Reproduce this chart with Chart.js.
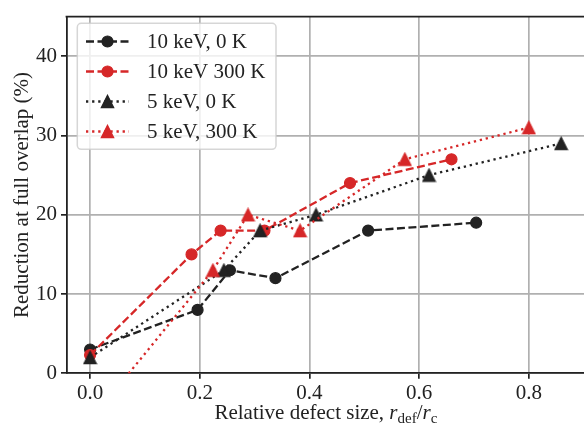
<!DOCTYPE html>
<html><head><meta charset="utf-8">
<script src="https://cdn.jsdelivr.net/npm/chart.js@4.4.1/dist/chart.umd.min.js"></script>
<style>html,body{margin:0;padding:0;overflow:hidden;background:#fff;width:584px;height:426px}canvas{display:block}</style>
</head><body><canvas id="c" width="592" height="426"></canvas>
<script>
// ---- data ----
const seriesNames = ['10 keV, 0 K', '10 keV 300 K', '5 keV, 0 K', '5 keV, 300 K'];
const x10keV0K   = [0.0, 0.196, 0.255, 0.338, 0.507, 0.704];
const y10keV0K   = [3, 8, 13, 12, 18, 19];
const x10keV300K = [0.0, 0.185, 0.238, 0.318, 0.474, 0.659];
const y10keV300K = [2.3, 15, 18, 18, 24, 27];
const x5keV0K    = [0.0, 0.244, 0.310, 0.412, 0.618, 0.859];
const y5keV0K    = [2, 13, 18, 20, 25, 29];
const x5keV300K  = [0.0, 0.224, 0.288, 0.383, 0.574, 0.800];
const y5keV300K  = [-6, 13, 20, 18, 27, 31];
const xTicks = [0.0, 0.2, 0.4, 0.6, 0.8];
const yTicks = [0, 10, 20, 30, 40];

const BLACK = '#222222', RED = '#d62728';
const FONT = 'Liberation Serif';

function makeTriangle(color) {
  const s = 12.4, pad = 1.2, n = Math.ceil(s + 2 * pad);
  const cv = document.createElement('canvas');
  cv.width = n; cv.height = n;
  const g = cv.getContext('2d');
  const c = n / 2;
  g.beginPath();
  g.moveTo(c, c - s / 2);
  g.lineTo(c - s / 2, c + s / 2);
  g.lineTo(c + s / 2, c + s / 2);
  g.closePath();
  g.fillStyle = color; g.strokeStyle = color; g.lineWidth = 1.2; g.lineJoin = 'miter';
  g.fill(); g.stroke();
  return cv;
}
const triBlack = makeTriangle(BLACK), triRed = makeTriangle(RED);

const DASH = [8, 3.5], DOT = [2.3, 3.8];
const specs = [
  {name: seriesNames[0], xs: x10keV0K,   ys: y10keV0K,   color: BLACK, dash: DASH, style: 'circle'},
  {name: seriesNames[1], xs: x10keV300K, ys: y10keV300K, color: RED,   dash: DASH, style: 'circle'},
  {name: seriesNames[2], xs: x5keV0K,    ys: y5keV0K,    color: BLACK, dash: DOT,  style: triBlack},
  {name: seriesNames[3], xs: x5keV300K,  ys: y5keV300K,  color: RED,   dash: DOT,  style: triRed},
];

const datasets = specs.map((s, i) => ({
  label: s.name,
  data: s.xs.map((x, j) => ({x: x, y: s.ys[j]})),
  borderColor: s.color, backgroundColor: s.color,
  borderWidth: 2.3, borderDash: s.dash, borderCapStyle: 'butt',
  pointStyle: s.style, pointRadius: 5.5, pointHoverRadius: 5.5,
  pointBorderWidth: 1.2, pointBackgroundColor: s.color, pointBorderColor: s.color,
  fill: false, tension: 0, order: 4 - i
}));

const decor = {
  id: 'decor',
  afterDraw(chart) {
    const ctx = chart.ctx, a = chart.chartArea;
    ctx.save();
    // top spine
    ctx.strokeStyle = BLACK; ctx.lineWidth = 1.8;
    ctx.beginPath(); ctx.moveTo(a.left - 0.9, a.top); ctx.lineTo(a.right, a.top); ctx.stroke();

    // legend
    const lx = 77.3, ly = 23.3, lw = 198.7, lh = 126;
    ctx.beginPath();
    ctx.roundRect(lx, ly, lw, lh, 4);
    ctx.fillStyle = 'rgba(255,255,255,0.8)'; ctx.fill();
    ctx.strokeStyle = 'rgba(204,204,204,0.8)'; ctx.lineWidth = 1.5; ctx.stroke();
    specs.forEach((s, i) => {
      const y = 41.5 + 30 * i;
      ctx.save();
      ctx.strokeStyle = s.color; ctx.lineWidth = 2.3; ctx.setLineDash(s.dash); ctx.lineCap = 'butt';
      ctx.beginPath(); ctx.moveTo(86, y); ctx.lineTo(129, y); ctx.stroke();
      ctx.restore();
      const mx = 107.5;
      if (s.style === 'circle') {
        ctx.beginPath(); ctx.arc(mx, y, 5.5, 0, Math.PI * 2);
        ctx.fillStyle = s.color; ctx.fill();
        ctx.strokeStyle = s.color; ctx.lineWidth = 1.2; ctx.stroke();
      } else {
        ctx.drawImage(s.style, mx - s.style.width / 2, y - s.style.height / 2);
      }
      ctx.fillStyle = BLACK; ctx.font = '21px "' + FONT + '"';
      ctx.textAlign = 'left'; ctx.textBaseline = 'middle';
      ctx.fillText(s.name, 147, y + 1);
    });

    // y axis title
    ctx.save();
    ctx.translate(22, (a.top + a.bottom) / 2);
    ctx.rotate(-Math.PI / 2);
    ctx.fillStyle = BLACK; ctx.font = '21px "' + FONT + '"';
    ctx.textAlign = 'center'; ctx.textBaseline = 'middle';
    ctx.fillText('Reduction at full overlap (%)', 0, 0);
    ctx.restore();

    // x axis title with math part r_def / r_c
    const reg = '21px "' + FONT + '"', ita = 'italic 21px "' + FONT + '"', sub = '15px "' + FONT + '"';
    const parts = [
      {t: 'Relative defect size, ', f: reg, dy: 0},
      {t: 'r', f: ita, dy: 0},
      {t: 'def', f: sub, dy: 4},
      {t: '/', f: reg, dy: 0},
      {t: 'r', f: ita, dy: 0},
      {t: 'c', f: sub, dy: 4}
    ];
    let total = 0;
    parts.forEach(p => { ctx.font = p.f; p.w = ctx.measureText(p.t).width; total += p.w; });
    let x = (a.left + a.right) / 2 - total / 2;
    const base = 419;
    ctx.textAlign = 'left'; ctx.textBaseline = 'alphabetic'; ctx.fillStyle = BLACK;
    parts.forEach(p => { ctx.font = p.f; ctx.fillText(p.t, x, base + p.dy); x += p.w; });
    ctx.restore();
  }
};

new Chart(document.getElementById('c'), {
  type: 'line',
  data: {datasets: datasets},
  options: {
    responsive: false, animation: false, devicePixelRatio: 1,
    layout: {padding: {left: 0, right: 6, top: 11.7, bottom: 0}},
    plugins: {legend: {display: false}, tooltip: {enabled: false}},
    scales: {
      x: {
        type: 'linear', min: -0.043, max: 0.903,
        afterFit(s) { s.height = 52.7; },
        afterBuildTicks(s) { s.ticks = xTicks.map(v => ({value: v})); },
        ticks: {callback: v => Number(v).toFixed(1), font: {family: FONT, size: 21}, color: BLACK,
                padding: 2, maxRotation: 0, autoSkip: false},
        grid: {color: '#b0b0b0', lineWidth: 1.7, tickColor: BLACK, tickLength: 5.5, tickWidth: 1.7, drawTicks: true},
        border: {display: true, color: BLACK, width: 1.8}
      },
      y: {
        type: 'linear', min: 0, max: 45,
        afterFit(s) { s.width = 66.5; },
        afterBuildTicks(s) { s.ticks = yTicks.map(v => ({value: v})); },
        ticks: {callback: v => String(v), font: {family: FONT, size: 21}, color: BLACK, padding: 4, autoSkip: false},
        grid: {color: '#b0b0b0', lineWidth: 1.7, tickColor: BLACK, tickLength: 5.5, tickWidth: 1.7, drawTicks: true},
        border: {display: true, color: BLACK, width: 1.8}
      }
    }
  },
  plugins: [decor]
});
</script>
</body></html>
